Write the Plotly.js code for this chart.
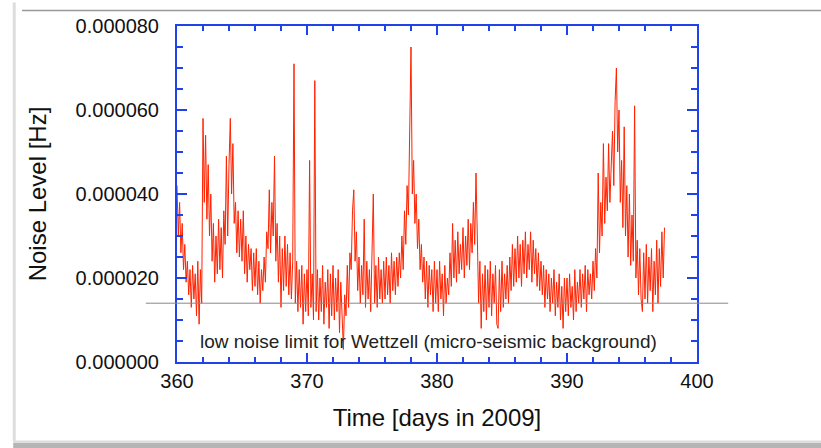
<!DOCTYPE html>
<html>
<head>
<meta charset="utf-8">
<script src="https://cdn.plot.ly/plotly-3.0.1.min.js"></script>
<style>
  html, body { margin: 0; padding: 0; background: #fff; }
  #chart { width: 821px; height: 448px; }
</style>
</head>
<body>
<div id="chart"></div>
<script>
// Ring laser noise level, sampled every 0.1 day starting at day 360 of 2009.
const startDay = 360;
const sampleStep = 0.1;

// Noise level in units of 1e-6 Hz, one row per day.
const noiseMicroHz = [
  42, 30, 38, 26, 33, 22, 28, 19, 24, 16,   // 360
  22, 13, 23, 15, 21, 11, 24, 9, 22, 14,    // 361
  58, 38, 54, 34, 47, 30, 40, 24, 33, 19,   // 362
  30, 21, 34, 22, 32, 20, 36, 28, 49, 30,   // 363
  47, 58, 40, 52, 33, 38, 26, 36, 25, 34,   // 364
  24, 36, 21, 30, 19, 28, 22, 27, 17, 26,   // 365
  18, 27, 16, 24, 14, 22, 17, 25, 19, 31,   // 366
  27, 41, 26, 38, 30, 49, 24, 33, 19, 30,   // 367
  13, 27, 17, 30, 18, 28, 16, 26, 15, 24,   // 368
  71, 14, 24, 12, 22, 13, 23, 9, 21, 12,    // 369
  22, 11, 48, 13, 21, 10, 67, 12, 22, 10,   // 370
  20, 12, 23, 9, 19, 13, 22, 8, 21, 11,     // 371
  23, 10, 20, 12, 22, 7, 19, 11, 3, 16,     // 372
  11, 23, 13, 26, 22, 36, 41, 24, 31, 17,   // 373
  25, 14, 23, 16, 34, 13, 24, 15, 22, 12,   // 374
  24, 40, 14, 23, 13, 25, 15, 22, 14, 24,   // 375
  15, 25, 16, 23, 14, 26, 17, 24, 16, 25,   // 376
  18, 26, 20, 30, 22, 36, 28, 42, 35, 57,   // 377
  75, 40, 48, 33, 40, 27, 34, 22, 28, 19,   // 378
  25, 15, 24, 13, 23, 16, 22, 12, 24, 14,   // 379
  22, 12, 24, 15, 21, 11, 23, 14, 20, 16,   // 380
  26, 18, 33, 20, 29, 19, 31, 21, 28, 22,   // 381
  32, 20, 30, 23, 34, 22, 33, 26, 38, 28,   // 382
  45, 30, 14, 24, 8, 21, 12, 23, 10, 22,    // 383
  13, 24, 11, 21, 14, 23, 9, 8, 22, 12,     // 384
  24, 13, 21, 15, 23, 14, 25, 17, 28, 18,   // 385
  27, 19, 30, 20, 28, 18, 29, 21, 31, 20,   // 386
  28, 22, 31, 19, 29, 21, 27, 18, 26, 17,   // 387
  24, 16, 23, 13, 22, 15, 21, 12, 20, 14,   // 388
  22, 11, 19, 13, 21, 10, 18, 8, 20, 12,    // 389
  20, 11, 21, 13, 18, 10, 22, 12, 19, 14,   // 390
  22, 13, 21, 15, 23, 12, 22, 16, 21, 15,   // 391
  24, 17, 27, 20, 45, 26, 38, 30, 52, 33,   // 392
  44, 36, 52, 38, 47, 55, 42, 62, 70, 50,   // 393
  60, 38, 48, 32, 56, 30, 42, 25, 40, 23,   // 394
  35, 24, 61, 20, 29, 16, 27, 15, 12, 26,   // 395
  15, 28, 14, 25, 17, 27, 12, 24, 16, 29,   // 396
  14, 27, 18, 31, 20, 32                    // 397
];

// Micro-seismic background floor for Wettzell, in units of 1e-6 Hz.
const lowNoiseLimitMicroHz = 14;

const yTickValues = [0, 20, 40, 60, 80];
const yTickLabels = ['0.000000', '0.000020', '0.000040', '0.000060', '0.000080'];
const xTickValues = [360, 370, 380, 390, 400];

const days = noiseMicroHz.map((_, i) => startDay + i * sampleStep);
const noiseHz = noiseMicroHz.map(v => v * 1e-6);

const frameBlue = '#1f42ea';
const font = 'Liberation Sans, Arial, Helvetica, sans-serif';

const trace = {
  x: days,
  y: noiseHz,
  type: 'scatter',
  mode: 'lines',
  line: { color: '#ff2200', width: 1 },
  hoverinfo: 'skip'
};

const layout = {
  width: 821,
  height: 448,
  margin: { l: 177, r: 124, t: 26, b: 86, pad: 0 },
  paper_bgcolor: '#ffffff',
  plot_bgcolor: '#ffffff',
  showlegend: false,
  font: { family: font, color: '#111111' },
  xaxis: {
    range: [360, 400],
    tickvals: xTickValues,
    ticktext: xTickValues.map(String),
    ticks: 'inside',
    ticklen: 9,
    tickwidth: 2,
    tickcolor: frameBlue,
    minor: { dtick: 2, ticks: 'inside', ticklen: 5, tickwidth: 2, tickcolor: frameBlue },
    showline: true,
    linecolor: frameBlue,
    linewidth: 2,
    mirror: 'allticks',
    showgrid: false,
    zeroline: false,
    tickfont: { family: font, size: 20, color: '#111111' },
    ticklabelstandoff: 0,
    title: { text: 'Time [days in 2009]', font: { family: font, size: 24, color: '#111111' }, standoff: 18 }
  },
  yaxis: {
    range: [0, 80e-6],
    tickvals: yTickValues.map(v => v * 1e-6),
    ticktext: yTickLabels,
    ticks: 'inside',
    ticklen: 10,
    tickwidth: 2,
    tickcolor: frameBlue,
    minor: { dtick: 5e-6, ticks: 'inside', ticklen: 6, tickwidth: 2, tickcolor: frameBlue },
    showline: true,
    linecolor: frameBlue,
    linewidth: 2,
    mirror: 'allticks',
    showgrid: false,
    zeroline: false,
    tickfont: { family: font, size: 20, color: '#111111' },
    ticklabelstandoff: 12,
    title: { text: 'Noise Level [Hz]', font: { family: font, size: 24, color: '#111111' }, standoff: 22 }
  },
  shapes: [
    // low noise limit line
    {
      type: 'line', xref: 'paper', yref: 'y',
      x0: -0.06, x1: 1.06,
      y0: lowNoiseLimitMicroHz * 1e-6, y1: lowNoiseLimitMicroHz * 1e-6,
      line: { color: '#888888', width: 1 },
      layer: 'above'
    },
    // page frame: top rule
    {
      type: 'line', xref: 'paper', yref: 'paper',
      x0: -0.298, x1: 1.25, y0: 1.046, y1: 1.046,
      line: { color: '#999999', width: 1.5 }
    },
    // page frame: left edge
    {
      type: 'line', xref: 'paper', yref: 'paper',
      x0: -0.313, x1: -0.313, y0: -0.235, y1: 1.07,
      line: { color: '#dddddd', width: 3 }
    },
    // page frame: bottom shadow
    {
      type: 'rect', xref: 'paper', yref: 'paper',
      x0: -0.315, x1: 1.25, y0: -0.256, y1: -0.24,
      fillcolor: '#b5b5b5', line: { width: 0 }
    },
    {
      type: 'rect', xref: 'paper', yref: 'paper',
      x0: -0.315, x1: 1.25, y0: -0.24, y1: -0.234,
      fillcolor: '#dddddd', line: { width: 0 }
    }
  ],
  annotations: [
    {
      xref: 'paper', yref: 'y',
      x: 0.04, y: 4.9e-6,
      xanchor: 'left', yanchor: 'middle',
      text: 'low noise limit for Wettzell (micro-seismic background)',
      showarrow: false,
      font: { family: font, size: 19, color: '#222222' }
    }
  ]
};

Plotly.newPlot('chart', [trace], layout, { staticPlot: true, displayModeBar: false });
</script>
</body>
</html>
